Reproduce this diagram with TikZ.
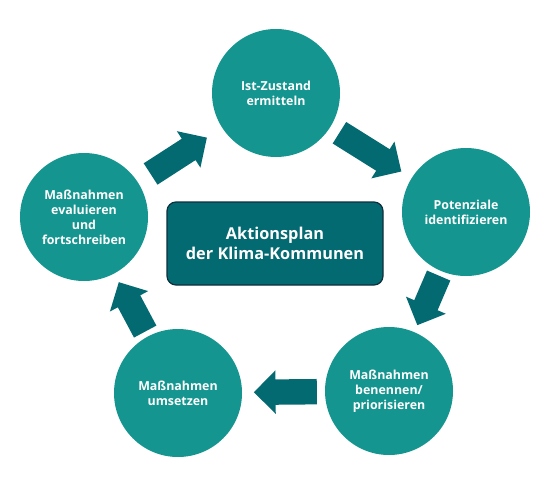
\documentclass[tikz,border=0pt]{standalone}
\usepackage{fontspec}
\setmainfont{Open Sans}
\usetikzlibrary{shapes.arrows,positioning}
\definecolor{stagegreen}{HTML}{14958F}
\definecolor{arrowteal}{HTML}{046A71}
\definecolor{boxborder}{HTML}{0E2F3C}
\tikzset{%
	stage/.style    = {circle, fill=stagegreen, minimum size=128pt, inner sep=0pt, text=white, font=\bfseries\fontsize{12.4}{15}\selectfont, align=center},
	planbox/.style  = {rectangle, rounded corners=9pt, fill=arrowteal, draw=boxborder, line width=1.2pt, minimum width=216pt, minimum height=83pt, text=white, font=\bfseries\fontsize{16.3}{20}\selectfont, align=center},
	blockarrow/.style = {single arrow, fill=arrowteal, inner xsep=0pt, inner ysep=12.5pt, single arrow head extend=9pt, sloped, allow upside down, anchor=tail},
}

\begin{document}
\begin{tikzpicture}[x=1pt,y=-1pt]
	\useasboundingbox (0,0) rectangle (559,484);
	
	\node[stage] (ist) at (276,93) {Ist-Zustand\\ermitteln};
	\node[stage] (potenz) at (466,212) {Potenziale\\identifizieren};
	\node[stage] (benennen) at (389,391) {Maßnahmen\\benennen/\\priorisieren};
	\node[stage] (umsetzen) at (178,393) {Maßnahmen\\umsetzen};
	\node[stage] (evaluieren) at (84,217) {Maßnahmen\\evaluieren\\und\\fortschreiben};
	
	\node[planbox] (plan) at (275,243.5) {Aktionsplan\\der Klima-Kommunen};
	
	\path (evaluieren.center) -- node[blockarrow, pos=.346, minimum height=67pt] {} (ist.center);
	\path (ist.center) -- node[blockarrow, pos=.333, minimum height=73pt] {} (potenz.center);
	\path (potenz.center) -- node[blockarrow, pos=.354, minimum height=54pt] {} (benennen.center);
	\path (benennen.center) -- node[blockarrow, pos=.341, minimum height=63pt] {} (umsetzen.center);
	\path (umsetzen.center) -- node[blockarrow, pos=.348, minimum height=56pt] {} (evaluieren.center);
\end{tikzpicture}
\end{document}
